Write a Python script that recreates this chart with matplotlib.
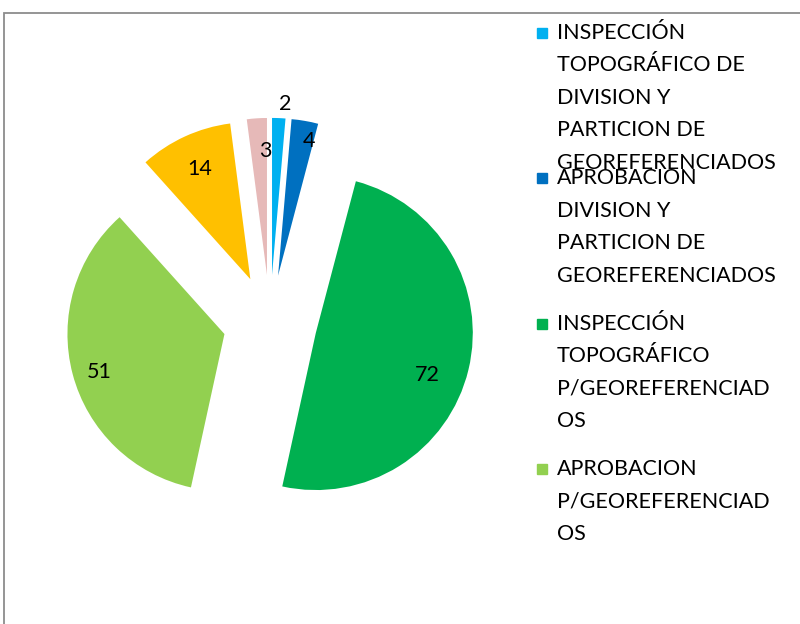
import matplotlib.pyplot as plt
import matplotlib.patches as mpatches
import numpy as np

# slice values, clockwise from 12 o'clock
values = [2, 4, 72, 51, 14, 3]
colors = ['#00B0F0', '#0070C0', '#00B050', '#92D050', '#FFC000', '#E6B9B8']
# only the first four entries fit in the legend box
legend_labels = [
    'INSPECCIÓN\nTOPOGRÁFICO DE\nDIVISION Y\nPARTICION DE\nGEOREFERENCIADOS',
    'APROBACION\nDIVISION Y\nPARTICION DE\nGEOREFERENCIADOS',
    'INSPECCIÓN\nTOPOGRÁFICO\nP/GEOREFERENCIAD\nOS',
    'APROBACION\nP/GEOREFERENCIAD\nOS',
]
label_dist = [1.09, 0.88, 0.76, 0.83, 0.77, 0.79]
label_shift = [-2, -3, -7, 2, 0, -3]  # degrees, nudges label along the arc

plt.rcParams['font.family'] = ['Lato', 'DejaVu Sans']
W, H = 800, 624
fig = plt.figure(figsize=(W / 100, H / 100), dpi=100)

# outer chart frame (cut off at right and bottom)
fig.patches.append(mpatches.Rectangle((4 / W, -0.1), 1.1, (H - 13) / H + 0.1,
                                      transform=fig.transFigure, fill=False,
                                      edgecolor='#8C8C8C', linewidth=1.3))

# axes so that r=1 is 157 px, centre at (270, 322) px
r_px, cx, cy = 157, 270, 322
half = 1.5 * r_px
ax = fig.add_axes([(cx - half) / W, (H - cy - half) / H, 2 * half / W, 2 * half / H])
explode = [0.3] * len(values)
wedges, _ = ax.pie(values, colors=colors, startangle=90, counterclock=False,
                   explode=explode, radius=1)
ax.set_xlim(-1.5, 1.5)
ax.set_ylim(-1.5, 1.5)
ax.set_aspect('equal')
ax.axis('off')

for w, v, d, s in zip(wedges, values, label_dist, label_shift):
    ang = np.deg2rad((w.theta1 + w.theta2) / 2 + s)
    x0, y0 = w.center
    ax.text(x0 + d * np.cos(ang), y0 + d * np.sin(ang), str(v),
            ha='center', va='center', fontsize=15.5, color='black')

# legend drawn line by line to match wrapped layout
pitch = 32.4
for i, (lab, col) in enumerate(zip(legend_labels, colors)):
    y_start = 33 + i * 145.3
    fig.patches.append(mpatches.Rectangle((537 / W, (H - y_start - 5) / H), 10 / W, 10 / H,
                                          transform=fig.transFigure, color=col))
    for j, line in enumerate(lab.split('\n')):
        fig.text(557 / W, (H - y_start - j * pitch) / H, line, fontsize=15.5,
                 ha='left', va='center', color='black')

fig.savefig('out.png', dpi=100)
